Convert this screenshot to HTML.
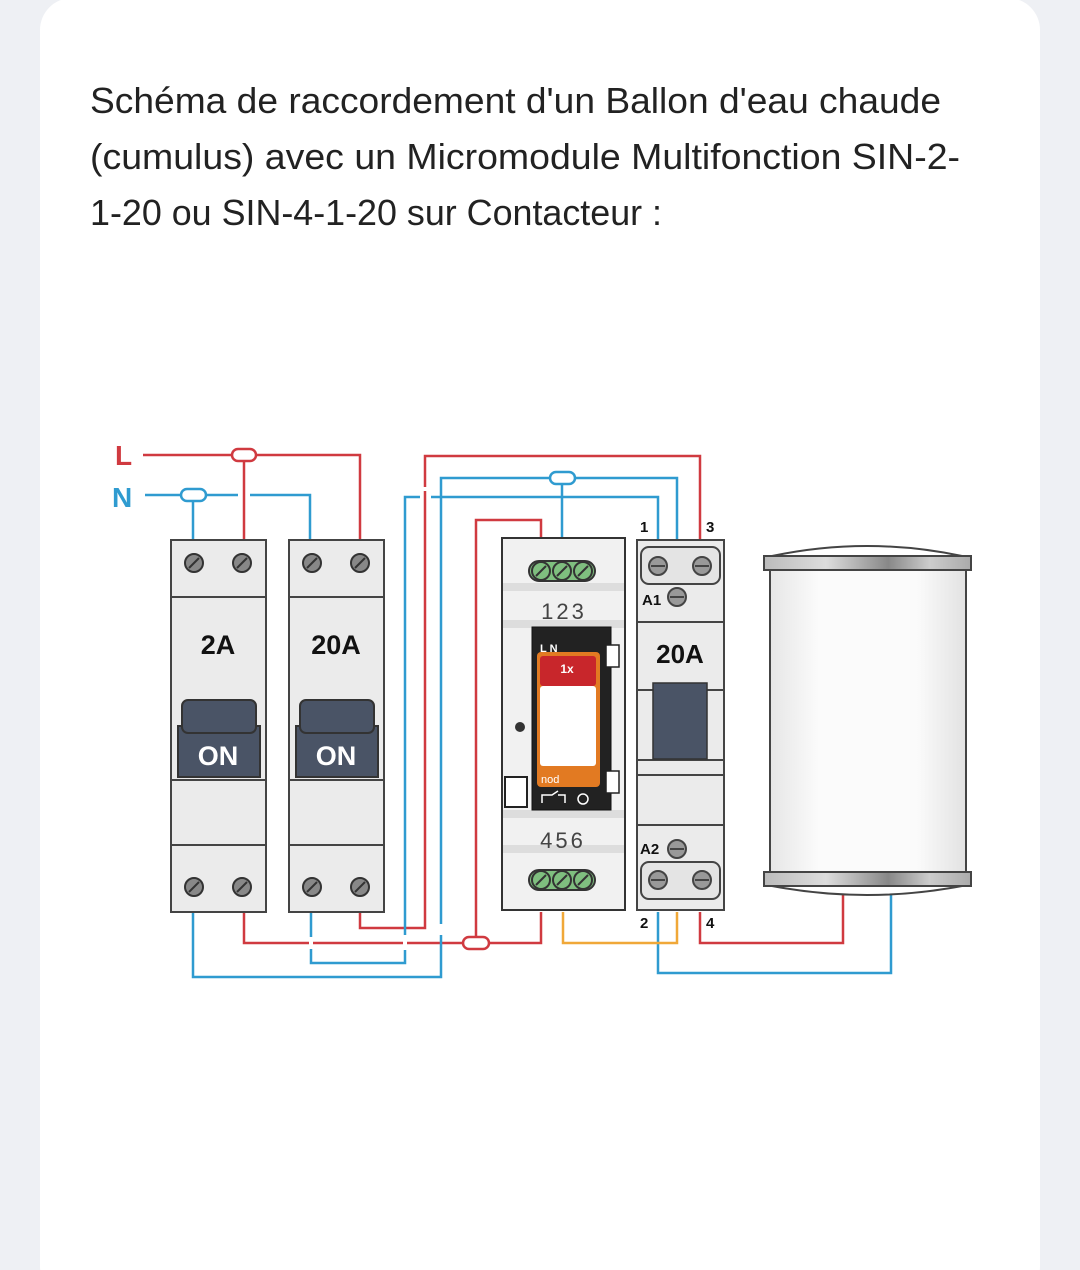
<!DOCTYPE html>
<html><head><meta charset="utf-8"><style>
html,body{margin:0;padding:0;background:#eef0f4;width:1080px;height:1270px;overflow:hidden}
svg{display:block}
</style></head><body>
<svg width="1080" height="1270" viewBox="0 0 1080 1270" xmlns="http://www.w3.org/2000/svg" font-family="Liberation Sans, sans-serif">
<defs>
<linearGradient id="band" x1="0" x2="1" y1="0" y2="0">
<stop offset="0" stop-color="#bbb"/><stop offset="0.3" stop-color="#ddd"/><stop offset="0.6" stop-color="#888"/><stop offset="0.8" stop-color="#ccc"/><stop offset="1" stop-color="#aaa"/></linearGradient>
<linearGradient id="body" x1="0" x2="1" y1="0" y2="0">
<stop offset="0" stop-color="#e6e6e6"/><stop offset="0.25" stop-color="#fbfbfb"/><stop offset="0.75" stop-color="#fbfbfb"/><stop offset="1" stop-color="#e2e2e2"/></linearGradient>
<g id="scr"><circle r="9" fill="#888" stroke="#333" stroke-width="2"/><line x1="-5" y1="5" x2="5" y2="-5" stroke="#333" stroke-width="2"/></g>
<g id="hscr"><circle r="9" fill="#999" stroke="#444" stroke-width="2"/><line x1="-7" y1="0" x2="7" y2="0" stroke="#444" stroke-width="2"/></g>
<g id="gscr"><circle r="9" fill="#7fbf7f" stroke="#333" stroke-width="2"/><line x1="-5" y1="5" x2="5" y2="-5" stroke="#333" stroke-width="2"/></g>
</defs>
<rect x="40" y="-2" width="1000" height="1300" rx="32" fill="#fff"/>
<g fill="#222" font-size="36">
<text x="90" y="113" textLength="851" lengthAdjust="spacingAndGlyphs">Schéma de raccordement d'un Ballon d'eau chaude</text>
<text x="90" y="169" textLength="870" lengthAdjust="spacingAndGlyphs">(cumulus) avec un Micromodule Multifonction SIN-2-</text>
<text x="90" y="225" textLength="572" lengthAdjust="spacingAndGlyphs">1-20 ou SIN-4-1-20 sur Contacteur :</text>
</g>

<!-- wires -->
<g fill="none" stroke-width="2.5">
<g stroke="#d03a40">
<path d="M143 455 H360 V540"/>
<path d="M244 455 V540"/>
<path d="M360 912 V928 H425 V456 H700 V540"/>
<path d="M244 912 V943 H541 V912"/>
<path d="M476 943 V520 H541 V540"/>
<path d="M700 912 V943 H843 V893"/>
</g>
<g stroke="#2f9bd0">
<path d="M145 495 H238 M250 495 H310 V540"/>
<path d="M193 495 V540"/>
<path d="M441 520 V478 H677 V540"/>
<path d="M405 935 V497 H420 M431 497 H658 V540"/>
<path d="M562 478 V540"/>
<path d="M193 912 V977 H441 V520"/>
<path d="M311 912 V963 H405 V935"/>
<path d="M658 912 V973 H891 V893"/>
</g>
<path stroke="#f0a838" d="M563 912 V943 H677 V912"/>
</g>
<!-- crossing gaps -->
<g stroke="#fff" stroke-width="4">
<line x1="425" y1="487" x2="425" y2="491"/>
<line x1="441" y1="924" x2="441" y2="935"/>
<line x1="405" y1="935" x2="405" y2="950"/>
<line x1="311" y1="937" x2="311" y2="949"/>
</g>
<g fill="#fff" stroke-width="2.5">
<rect x="232" y="449" width="24" height="12" rx="6" stroke="#d03a40"/>
<rect x="181" y="489" width="25" height="12" rx="6" stroke="#2f9bd0"/>
<rect x="550" y="472" width="25" height="12" rx="6" stroke="#2f9bd0"/>
<rect x="463" y="937" width="26" height="12" rx="6" stroke="#d03a40"/>
</g>
<text x="115" y="465" font-size="28" font-weight="bold" fill="#d03a40">L</text>
<text x="112" y="507" font-size="28" font-weight="bold" fill="#2f9bd0">N</text>

<!-- breakers -->
<g stroke="#444" stroke-width="2" fill="#ebebeb">
<rect x="171" y="540" width="95" height="372"/>
<line x1="171" y1="597" x2="266" y2="597"/><line x1="171" y1="780" x2="266" y2="780"/><line x1="171" y1="845" x2="266" y2="845"/>
<rect x="289" y="540" width="95" height="372"/>
<line x1="289" y1="597" x2="384" y2="597"/><line x1="289" y1="780" x2="384" y2="780"/><line x1="289" y1="845" x2="384" y2="845"/>
</g>
<g fill="#4a5466" stroke="#333" stroke-width="2">
<rect x="178" y="726" width="82" height="51"/>
<rect x="182" y="700" width="74" height="33" rx="6"/>
<rect x="296" y="726" width="82" height="51"/>
<rect x="300" y="700" width="74" height="33" rx="6"/>
</g>
<g font-size="27" font-weight="bold" text-anchor="middle">
<text x="218" y="654" fill="#111">2A</text><text x="336" y="654" fill="#111">20A</text>
<text x="218" y="765" fill="#fff">ON</text><text x="336" y="765" fill="#fff">ON</text>
</g>
<use href="#scr" x="194" y="563"/><use href="#scr" x="242" y="563"/>
<use href="#scr" x="312" y="563"/><use href="#scr" x="360" y="563"/>
<use href="#scr" x="194" y="887"/><use href="#scr" x="242" y="887"/>
<use href="#scr" x="312" y="887"/><use href="#scr" x="360" y="887"/>

<!-- micromodule -->
<rect x="502" y="538" width="123" height="372" fill="#f1f1f1" stroke="#333" stroke-width="2"/>
<g fill="#ddd"><rect x="503" y="583" width="121" height="8"/><rect x="503" y="620" width="121" height="8"/><rect x="503" y="810" width="121" height="8"/><rect x="503" y="845" width="121" height="8"/></g>
<rect x="529" y="561" width="66" height="20" rx="10" fill="#7fbf7f" stroke="#333" stroke-width="2"/>
<use href="#gscr" x="541" y="571"/><use href="#gscr" x="562" y="571"/><use href="#gscr" x="583" y="571"/>
<rect x="529" y="870" width="66" height="20" rx="10" fill="#7fbf7f" stroke="#333" stroke-width="2"/>
<use href="#gscr" x="541" y="880"/><use href="#gscr" x="562" y="880"/><use href="#gscr" x="583" y="880"/>
<text x="564" y="619" font-size="22" fill="#444" text-anchor="middle" letter-spacing="3">123</text>
<text x="563" y="848" font-size="22" fill="#444" text-anchor="middle" letter-spacing="3">456</text>
<rect x="532" y="627" width="79" height="183" fill="#222" stroke="#111"/>
<rect x="606" y="645" width="13" height="22" fill="#fff" stroke="#222" stroke-width="1.5"/>
<rect x="606" y="771" width="13" height="22" fill="#fff" stroke="#222" stroke-width="1.5"/>
<rect x="505" y="777" width="22" height="30" fill="#fff" stroke="#222" stroke-width="2"/>
<circle cx="520" cy="727" r="5" fill="#333"/>
<text x="540" y="652" font-size="11" font-weight="bold" fill="#fff">L  N</text>
<rect x="537" y="652" width="63" height="135" rx="4" fill="#e27a22"/>
<rect x="540" y="656" width="56" height="30" rx="3" fill="#c8262b"/>
<text x="567" y="673" font-size="12" font-weight="bold" fill="#fff" text-anchor="middle">1x</text>
<rect x="540" y="686" width="56" height="80" rx="3" fill="#fff"/>
<text x="541" y="783" font-size="11" fill="#fff">nod</text>
<path d="M542 803 V795 H552 L558 791 M558 795 H565 V803" stroke="#fff" stroke-width="1.5" fill="none"/>
<circle cx="583" cy="799" r="5" fill="none" stroke="#fff" stroke-width="1.5"/>

<!-- contactor -->
<g stroke="#444" stroke-width="2" fill="#ebebeb">
<rect x="637" y="540" width="87" height="370"/>
<line x1="637" y1="622" x2="724" y2="622"/><line x1="637" y1="690" x2="724" y2="690"/><line x1="637" y1="760" x2="724" y2="760"/><line x1="637" y1="775" x2="724" y2="775"/><line x1="637" y1="825" x2="724" y2="825"/>
<rect x="641" y="547" width="79" height="37" rx="8" fill="#e4e4e4"/>
<rect x="641" y="862" width="79" height="37" rx="8" fill="#e4e4e4"/>
</g>
<rect x="653" y="683" width="54" height="76" fill="#4a5466" stroke="#333" stroke-width="1.5"/>
<use href="#hscr" x="658" y="566"/><use href="#hscr" x="702" y="566"/>
<use href="#hscr" x="677" y="597"/><use href="#hscr" x="677" y="849"/>
<use href="#hscr" x="658" y="880"/><use href="#hscr" x="702" y="880"/>
<g font-weight="bold" fill="#111">
<text x="680" y="663" font-size="26" text-anchor="middle">20A</text>
<text x="642" y="605" font-size="15">A1</text>
<text x="640" y="854" font-size="15">A2</text>
<text x="640" y="532" font-size="15">1</text><text x="706" y="532" font-size="15">3</text>
<text x="640" y="928" font-size="15">2</text><text x="706" y="928" font-size="15">4</text>
</g>

<!-- tank -->
<path d="M772 556 Q867 536 962 556 Z" fill="#fff" stroke="#444" stroke-width="2"/>
<path d="M772 886 Q867 904 962 886 Z" fill="#fff" stroke="#444" stroke-width="2"/>
<rect x="770" y="570" width="196" height="302" fill="url(#body)" stroke="#444" stroke-width="2"/>
<rect x="764" y="556" width="207" height="14" fill="url(#band)" stroke="#444" stroke-width="2"/>
<rect x="764" y="872" width="207" height="14" fill="url(#band)" stroke="#444" stroke-width="2"/>
</svg>
</body></html>
